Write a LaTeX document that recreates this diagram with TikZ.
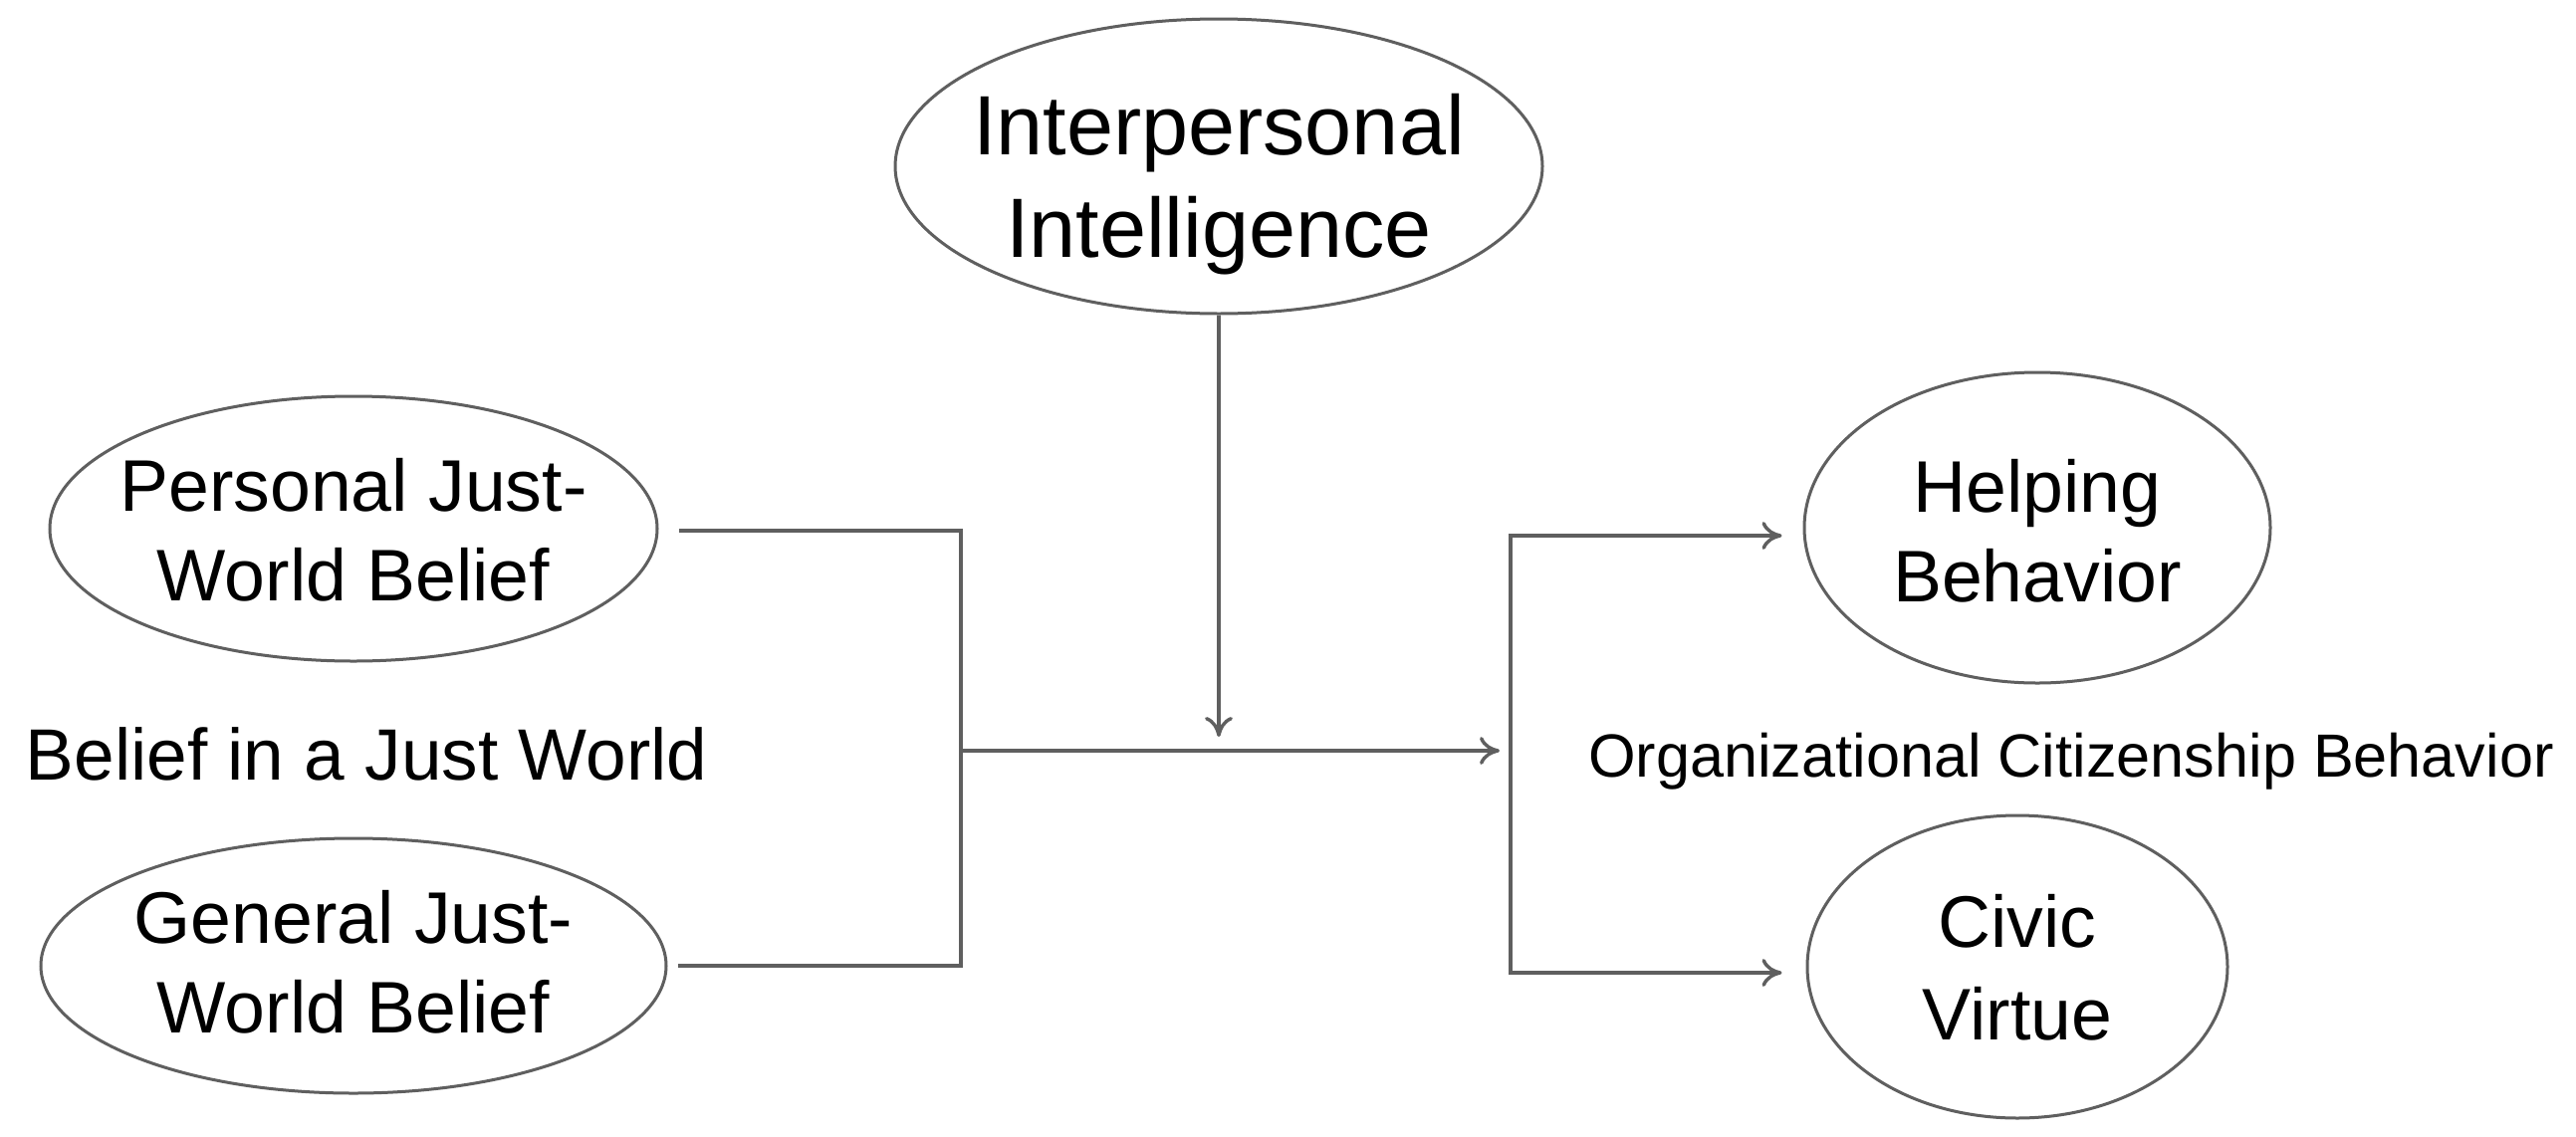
\documentclass[tikz,border=0pt]{standalone}
\usepackage{fontspec}
\setmainfont{Liberation Sans}
\usetikzlibrary{shapes.geometric,arrows.meta}
\definecolor{linegray}{RGB}{95,95,95}
\tikzset{
  oval/.style={ellipse, draw=linegray, line width=1.5pt, inner sep=0pt},
  ovaltext/.style={align=center, text=black, inner sep=0pt},
  conn/.style={draw=linegray, line width=1.7pt, line join=miter},
  arr/.style={conn, -{To[length=10pt,width=14pt]}},
}
\begin{document}
\begin{tikzpicture}[x=0.5pt,y=-0.5pt]
\useasboundingbox[fill=white] (0,0) rectangle (2587,1141);

% ellipses
\node[oval, minimum width=650pt/2, minimum height=296pt/2] (ii) at (1224,167) {};
\node[oval, minimum width=610pt/2, minimum height=266pt/2] (pjb) at (355,531) {};
\node[oval, minimum width=628pt/2, minimum height=256pt/2] (gjb) at (355,970) {};
\node[oval, minimum width=468pt/2, minimum height=312pt/2] (hb) at (2046,530) {};
\node[oval, minimum width=422pt/2, minimum height=304pt/2] (cv) at (2026,971) {};

% ellipse texts
\node[ovaltext, font=\fontsize{42.3pt}{51.5pt}\selectfont] (iit) at (1224,185) {Interpersonal\\Intelligence};
\node[ovaltext, font=\fontsize{36.7pt}{45pt}\selectfont] (pjbt) at (355,532) {Personal Just-\\World Belief};
\node[ovaltext, font=\fontsize{36.7pt}{45pt}\selectfont] (gjbt) at (355,966) {General Just-\\World Belief};
\node[ovaltext, font=\fontsize{36.7pt}{45pt}\selectfont] (hbt) at (2046,533) {Helping\\Behavior};
\node[ovaltext, font=\fontsize{36.7pt}{46.5pt}\selectfont] (cvt) at (2026,972) {Civic\\Virtue};

% group labels
\node[anchor=base, inner sep=0pt, font=\fontsize{36.5pt}{44pt}\selectfont] (bjw) at (368,783) {Belief in a Just World};
\node[anchor=base, inner sep=0pt, font=\fontsize{30.6pt}{37pt}\selectfont] (ocb) at (2080,780) {Organizational Citizenship Behavior};

% junction coordinates
\coordinate (bt) at (965,533);
\coordinate (bb) at (965,970);
\coordinate (bm) at (965,754);
\coordinate (rt) at (1517,538);
\coordinate (rb) at (1517,977);
\coordinate (rm) at (1517,754);
\coordinate (dt) at (1224,740);

% left bracket
\draw[conn] ([xshift=10pt]pjb.east |- bt) -- (bt) -- (bb) -- ([xshift=5pt]gjb.east |- bb);
\draw[arr, shorten >=5.5pt] (bm) -- (rm);

% moderator
\draw[arr] (ii.south) -- (dt);

% right bracket
\draw[arr, shorten >=10.5pt] (rb) -- (rt) -- (rt -| hb.west);
\draw[arr, shorten >=12pt] (rt) -- (rb) -- (rb -| cv.west);
\end{tikzpicture}
\end{document}
